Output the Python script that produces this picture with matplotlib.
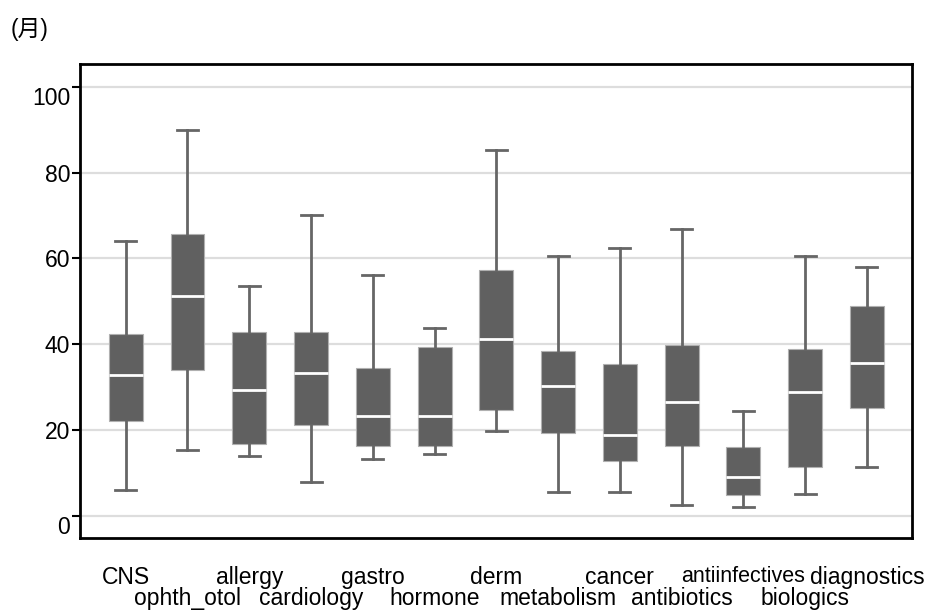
import matplotlib
matplotlib.use("Agg")
import matplotlib.pyplot as plt

plt.rcParams['font.family'] = ['Liberation Sans', 'Noto Sans CJK JP', 'DejaVu Sans']

categories = ['CNS', 'ophth_otol', 'allergy', 'cardiology', 'gastro', 'hormone',
              'derm', 'metabolism', 'cancer', 'antibiotics', 'antiinfectives',
              'biologics', 'diagnostics']
whisker_low = [6.0, 15.4, 13.9, 7.9, 13.3, 14.4, 19.8, 5.4, 5.4, 2.4, 2.0, 5.0, 11.4]
q1 = [22.1, 34.0, 16.7, 21.1, 16.2, 16.2, 24.6, 19.2, 12.7, 16.2, 4.8, 11.3, 25.2]
median = [32.7, 51.2, 29.2, 33.2, 23.3, 23.3, 41.2, 30.2, 18.9, 26.4, 9.0, 28.8, 35.7]
q3 = [42.3, 65.7, 42.9, 42.9, 34.4, 39.3, 57.3, 38.4, 35.4, 39.9, 16.0, 38.9, 48.8]
whisker_high = [64.0, 89.9, 53.6, 70.2, 56.1, 43.7, 85.3, 60.6, 62.5, 67.0, 24.3, 60.6, 58.1]
y_ticks = [0, 20, 40, 60, 80, 100]
unit_label = '(月)'

stats = []
for name, lo, a, m, b, hi in zip(categories, whisker_low, q1, median, q3, whisker_high):
    stats.append({'label': name, 'whislo': lo, 'q1': a, 'med': m, 'q3': b,
                  'whishi': hi, 'fliers': []})

fig = plt.figure(figsize=(9.25, 6.12), dpi=100)
ax = fig.add_axes([0.0865, 0.1209, 0.8995, 0.7745])

positions = list(range(len(categories)))
ax.bxp(stats, positions=positions, widths=0.55, patch_artist=True,
       showfliers=False,
       boxprops=dict(facecolor='#606060', edgecolor='#b0b0b0', linewidth=0.8),
       medianprops=dict(color='white', linewidth=2),
       whiskerprops=dict(color='#666666', linewidth=2),
       capprops=dict(color='#666666', linewidth=2),
       capwidths=0.34)

ax.set_xlim(-0.74, 12.73)
ax.set_ylim(-5.25, 105.4)

# horizontal grid behind the boxes
ax.set_axisbelow(True)
ax.yaxis.grid(True, color='#dddddd', linewidth=1.6)
ax.xaxis.grid(False)

ax.set_yticks(y_ticks)
ax.set_yticklabels([str(v) for v in y_ticks])
ax.tick_params(axis='y', direction='out', length=6, width=1.5, pad=1,
               labelsize=16.5, colors='black')
for lbl in ax.get_yticklabels():
    if lbl.get_text() in ('0', '100'):
        lbl.set_verticalalignment('top')

# category labels staggered on two rows
ax.set_xticks(positions[0::2])
ax.set_xticklabels(categories[0::2])
ax.set_xticks(positions[1::2], minor=True)
ax.set_xticklabels(categories[1::2], minor=True)
ax.tick_params(axis='x', which='major', length=0, pad=20, labelsize=16.5)
ax.tick_params(axis='x', which='minor', length=0, pad=35, labelsize=16.5)
for lbl in ax.get_xticklabels():
    if lbl.get_text() == 'antiinfectives':
        lbl.set_fontsize(15.5)

for side in ('left', 'right', 'top', 'bottom'):
    ax.spines[side].set_color('black')
    ax.spines[side].set_linewidth(2)

fig.text(0.012, 0.951, unit_label, fontsize=16.5, va='center', ha='left')

fig.savefig('out.png', dpi=100)
